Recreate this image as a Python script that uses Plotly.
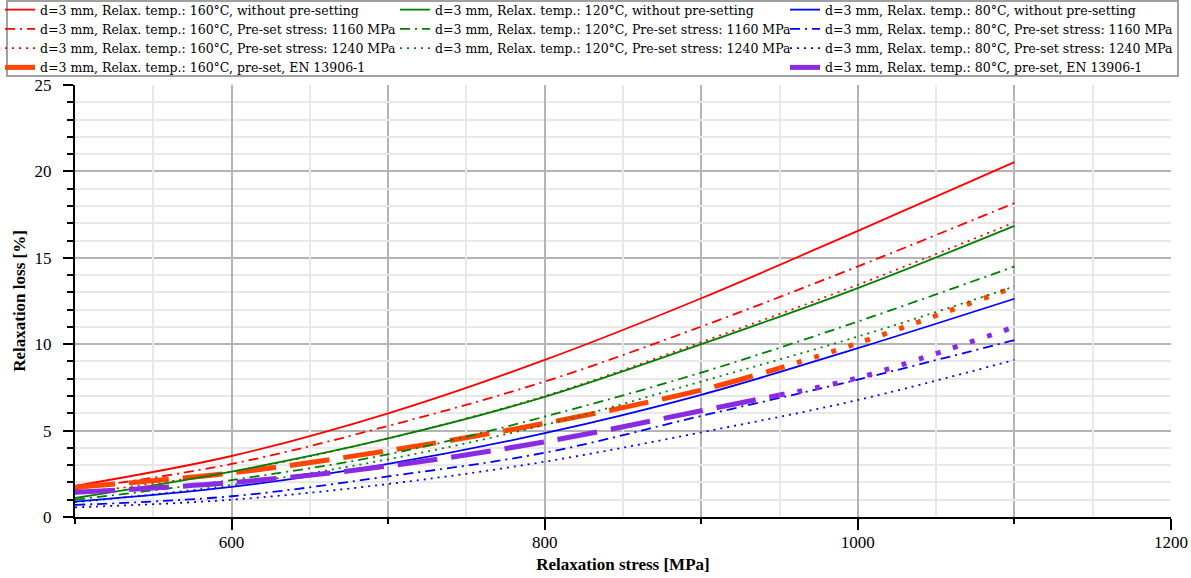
import plotly.graph_objects as go

# ---------------- data ----------------
stress = [500, 600, 700, 800, 900, 1000, 1100]
stress_en = [500, 600, 700, 800, 900, 950, 1000, 1100]

loss_160_none = [1.80, 3.53, 6.00, 9.09, 12.66, 16.56, 20.54]
loss_160_1160 = [1.60, 3.07, 5.27, 7.84, 11.02, 14.50, 18.17]
loss_160_1240 = [1.35, 2.62, 4.55, 7.00, 10.12, 13.44, 17.05]
loss_160_en = [1.72, 2.55, 3.84, 5.42, 7.35, 8.62, 10.06, 13.30]

loss_120_none = [1.10, 2.63, 4.55, 6.95, 10.00, 13.25, 16.85]
loss_120_1160 = [1.00, 2.14, 3.63, 5.81, 8.36, 11.31, 14.50]
loss_120_1240 = [0.85, 1.85, 3.34, 5.33, 7.84, 10.44, 13.34]

loss_80_none = [0.89, 1.74, 3.07, 4.85, 7.07, 9.77, 12.63]
loss_80_1160 = [0.70, 1.20, 2.35, 3.72, 5.85, 7.95, 10.24]
loss_80_1240 = [0.56, 1.00, 1.91, 3.20, 4.90, 6.77, 9.09]
loss_80_en = [1.43, 1.99, 2.95, 4.35, 6.15, 7.06, 8.05, 11.00]

names = [
    "d=3 mm, Relax. temp.: 160°C, without pre-setting",
    "d=3 mm, Relax. temp.: 160°C, Pre-set stress: 1160 MPa",
    "d=3 mm, Relax. temp.: 160°C, Pre-set stress: 1240 MPa",
    "d=3 mm, Relax. temp.: 160°C, pre-set, EN 13906-1",
    "d=3 mm, Relax. temp.: 120°C, without pre-setting",
    "d=3 mm, Relax. temp.: 120°C, Pre-set stress: 1160 MPa",
    "d=3 mm, Relax. temp.: 120°C, Pre-set stress: 1240 MPa",
    "d=3 mm, Relax. temp.: 80°C, without pre-setting",
    "d=3 mm, Relax. temp.: 80°C, Pre-set stress: 1160 MPa",
    "d=3 mm, Relax. temp.: 80°C, Pre-set stress: 1240 MPa",
    "d=3 mm, Relax. temp.: 80°C, pre-set, EN 13906-1",
]

x_major_labels = [600, 800, 1000, 1200]
x_minor_ticks = [500, 700, 900, 1100]
x_light_grid = [550, 650, 750, 850, 950, 1050, 1150]

# ---------------- styles ----------------
RED, GREEN, BLUE = "#ff0000", "#008000", "#0000ff"
ORANGE, PURPLE = "#ff4500", "#8a2be2"
DASHDOT = "10px,5px,2px,5px"
DOT = "2px,5px"
THIN = 1.8
THICK = 5
LONG = "40px,14px"
SQUARES = "5px,13px"

fig = go.Figure()


def thin(x, y, name, color, dash, legend):
    fig.add_trace(go.Scatter(
        x=x, y=y, name=name, mode="lines", legend=legend,
        line=dict(color=color, width=THIN, dash=dash, shape="spline", smoothing=1.0),
    ))


def en(x, y, name, color, legend, xaxis_second="x"):
    split = x.index(950)
    fig.add_trace(go.Scatter(
        x=x[:split + 1], y=y[:split + 1], name=name, mode="lines", legend=legend,
        legendgroup=name,
        line=dict(color=color, width=THICK, dash=LONG, shape="spline", smoothing=1.0),
    ))
    fig.add_trace(go.Scatter(
        x=x[split:], y=y[split:], name=name, mode="lines", legend=legend,
        legendgroup=name, showlegend=False, xaxis=xaxis_second,
        line=dict(color=color, width=THICK, dash=SQUARES, shape="spline", smoothing=1.0),
    ))


thin(stress, loss_160_none, names[0], RED, "solid", "legend")
thin(stress, loss_160_1160, names[1], RED, DASHDOT, "legend")
thin(stress, loss_160_1240, names[2], RED, DOT, "legend")
en(stress_en, loss_160_en, names[3], ORANGE, "legend")

thin(stress, loss_120_none, names[4], GREEN, "solid", "legend2")
thin(stress, loss_120_1160, names[5], GREEN, DASHDOT, "legend2")
thin(stress, loss_120_1240, names[6], GREEN, DOT, "legend2")

thin(stress, loss_80_none, names[7], BLUE, "solid", "legend3")
thin(stress, loss_80_1160, names[8], BLUE, DASHDOT, "legend3")
thin(stress, loss_80_1240, names[9], BLUE, DOT, "legend3")
en(stress_en, loss_80_en, names[10], PURPLE, "legend3", xaxis_second="x2")

# ---------------- layout ----------------
W, H = 1191, 578
ML, MR, MT, MB = 75, 20, 85, 61
PW, PH = W - ML - MR, H - MT - MB


def px_x(p):
    return (p - ML) / PW


def px_y(p):
    return (H - MB - p) / PH


DARK = "#b4b4b4"
LIGHT = "#e8e8e8"
TICKFONT = dict(family="Liberation Serif", size=17, color="black")
TITLEFONT = dict(family="Liberation Serif", size=17, color="black", weight="bold")
LEGFONT = dict(family="DejaVu Serif", size=12.5, color="black")

leg_common = dict(xanchor="left", yanchor="top", bgcolor="rgba(0,0,0,0)",
                  borderwidth=0, font=LEGFONT, itemwidth=30, traceorder="normal",
                  tracegroupgap=0, orientation="v")

fig.update_layout(
    width=W, height=H,
    margin=dict(l=ML, r=MR, t=MT, b=MB, autoexpand=False),
    paper_bgcolor="white", plot_bgcolor="white",
    legend=dict(x=px_x(0), y=px_y(-5), **leg_common),
    legend2=dict(x=px_x(395), y=px_y(-5), **leg_common),
    legend3=dict(x=px_x(785), y=px_y(-5), **leg_common),
    xaxis=dict(
        range=[500, 1200], tickvals=x_major_labels,
        ticks="outside", ticklen=11, tickwidth=2, tickcolor="black",
        showline=True, linecolor="black", linewidth=2,
        showgrid=True, gridcolor=DARK, gridwidth=2, zeroline=False,
        minor=dict(tickvals=x_minor_ticks, ticks="outside", ticklen=5,
                   tickwidth=2, tickcolor="black", showgrid=True,
                   gridcolor=DARK, gridwidth=2),
        tickfont=TICKFONT, automargin=False, ticklabelstandoff=-2,
        title=dict(text="Relaxation stress [MPa]", font=TITLEFONT, standoff=7),
    ),
    xaxis2=dict(
        range=[500, 1200], matches="x", overlaying="x", anchor="y", side="bottom",
        tickvals=x_light_grid, ticks="",
        showticklabels=False, showline=False, zeroline=False,
        showgrid=True, gridcolor=LIGHT, gridwidth=2, automargin=False,
    ),
    yaxis=dict(
        range=[0, 25], dtick=5, tick0=0,
        ticks="outside", ticklen=10, tickwidth=2, tickcolor="black",
        showline=True, linecolor="black", linewidth=2,
        showgrid=True, gridcolor=DARK, gridwidth=2, zeroline=False,
        minor=dict(dtick=1, ticks="outside", ticklen=6, tickwidth=2,
                   tickcolor="black", showgrid=True, gridcolor=LIGHT, gridwidth=2),
        tickfont=TICKFONT, automargin=False, ticklabelstandoff=8,
        title=dict(text="Relaxation loss [%]", font=TITLEFONT, standoff=5),
    ),
    shapes=[dict(type="rect", xref="paper", yref="paper",
                 x0=px_x(7), x1=px_x(1178), y0=px_y(76), y1=px_y(1),
                 line=dict(color="#a0a0a0", width=2), fillcolor="rgba(0,0,0,0)",
                 layer="above")],
)

fig.write_html("out.html")
